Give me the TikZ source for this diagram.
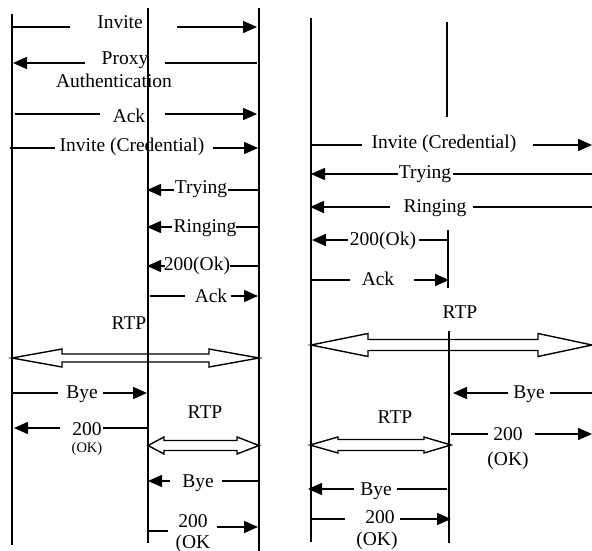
\documentclass[tikz,border=0pt]{standalone}
\usepackage{fontspec}
\setmainfont{Liberation Serif}
\usetikzlibrary{arrows.meta}
\newcommand\hollowdbl[7]{% x1,x2,y,headlen1,headlen2,headhalf,shafthalf
  \draw[rtp] (#1,#3) -- (#1+#4,#3-#6) -- (#1+#4,#3-#7) -- (#2-#5,#3-#7) -- (#2-#5,#3-#6) -- (#2,#3)
    -- (#2-#5,#3+#6) -- (#2-#5,#3+#7) -- (#1+#4,#3+#7) -- (#1+#4,#3+#6) -- cycle;}
\begin{document}
\begin{tikzpicture}[x=1pt,y=-1pt,
  life/.style={line width=1.8pt},
  msg/.style={line width=1.5pt},
  tip/.style={msg,-{Triangle[length=14pt,width=12pt]}},
  lbl/.style={font=\fontsize{19.5}{22}\selectfont, inner sep=0pt, anchor=base},
  smalllbl/.style={font=\fontsize{14.5}{16}\selectfont, inner sep=0pt, anchor=base},
  rtp/.style={line width=1.4pt, line join=miter}]
\useasboundingbox (0,0) rectangle (592,551);
% lifelines
\coordinate (A1t) at (12,14);  \coordinate (A1b) at (12,545);
\coordinate (A2t) at (148,8);  \coordinate (A2b) at (148,543);
\coordinate (A3t) at (259,8);  \coordinate (A3b) at (259,551);
\coordinate (B1t) at (311,18); \coordinate (B1b) at (311,542);
\coordinate (B2t) at (447,22); \coordinate (B2b) at (447,117);
\coordinate (B3t) at (448,230); \coordinate (B3b) at (448,288);
\coordinate (B4t) at (449,331); \coordinate (B4b) at (449,543);
\foreach \a/\b in {A1t/A1b,A2t/A2b,A3t/A3b,B1t/B1b,B2t/B2b,B3t/B3b,B4t/B4b}
  \draw[life] (\a) -- (\b);

% ---------- left diagram ----------
\draw[msg] (12,27) -- (70,27);
\node[lbl] (inv1) at (120,29) {Invite};
\draw[tip] (177,27) -- (257,27);

\draw[tip] (85,63) -- (13,63);
\node[lbl] (proxy) at (125,65) {Proxy};
\node[lbl] (auth) at (114,88) {Authentication};
\draw[msg] (165,63) -- (257,63);

\draw[msg] (15,114) -- (100,114);
\node[lbl] (ack1) at (129,122) {Ack};
\draw[tip] (165,114) -- (257,114);

\draw[msg] (10,148) -- (55,148);
\node[lbl] (invc1) at (132,151) {Invite (Credential)};
\draw[tip] (213,148) -- (258,148);

\draw[tip] (174,190) -- (147,190);
\node[lbl] (try1) at (201,193) {Trying};
\draw[msg] (228,190) -- (259,190);

\draw[tip] (172,227) -- (147,227);
\node[lbl] (ring1) at (205,232) {Ringing};
\draw[msg] (236,227) -- (259,227);

\draw[tip] (165,266) -- (147,266);
\node[lbl] (ok1) at (197,270) {200(Ok)};
\draw[msg] (230,266) -- (259,266);

\draw[msg] (150,296) -- (185,296);
\node[lbl] (ack2) at (211,302) {Ack};
\draw[tip] (231,296) -- (258,296);

\node[lbl] (rtp1) at (129,329) {RTP};
\hollowdbl{12}{259}{358}{50}{50}{9}{4}

\draw[msg] (12,393) -- (58,393);
\node[lbl] (bye1) at (82,398) {Bye};
\draw[tip] (103,393) -- (147,393);

\draw[tip] (60,428) -- (14,428);
\node[lbl] (ok2) at (87,435) {200};
\draw[msg] (103,428) -- (148,428);
\node[smalllbl] (ok2b) at (87,452) {(OK)};

\node[lbl] (rtp2) at (205,418) {RTP};
\hollowdbl{148}{259}{445.5}{16}{22}{8.5}{5}

\draw[tip] (170,481) -- (148,481);
\node[lbl] (bye2) at (198,487) {Bye};
\draw[msg] (222,481) -- (259,481);

\draw[msg] (148,531) -- (168,531);
\node[lbl] (ok3) at (193,527) {200};
\draw[tip] (217,527) -- (258,527);
\node[lbl] (ok3b) at (193,548) {(OK};

% ---------- right diagram ----------
\draw[msg] (311,145) -- (362,145);
\node[lbl] (invc2) at (444,148) {Invite (Credential)};
\draw[tip] (533,145) -- (592,145);

\draw[tip] (398,174) -- (311,174);
\node[lbl] (try2) at (425,178) {Trying};
\draw[msg] (453,174) -- (592,174);

\draw[tip] (390,207) -- (310,207);
\node[lbl] (ring2) at (435,212) {Ringing};
\draw[msg] (473,207) -- (592,207);

\draw[tip] (348,240) -- (312,240);
\node[lbl] (ok4) at (383,245) {200(Ok)};
\draw[msg] (419,240) -- (448,240);

\draw[msg] (311,280) -- (350,280);
\node[lbl] (ack3) at (378,285) {Ack};
\draw[tip] (414,280) -- (449,280);

\node[lbl] (rtp3) at (460,318) {RTP};
\hollowdbl{311}{592}{345}{57}{54}{11.5}{5.5}

\draw[tip] (508,393) -- (453,393);
\node[lbl] (bye3) at (529,398) {Bye};
\draw[msg] (550,393) -- (592,393);

\node[lbl] (rtp4) at (395,423) {RTP};

\draw[msg] (451,434) -- (488,434);
\node[lbl] (ok5) at (508,440) {200};
\draw[tip] (535,434) -- (592,434);
\node[lbl] (ok5b) at (508,465) {(OK)};

\hollowdbl{310}{451}{445}{28}{27}{8}{5.5}

\draw[tip] (354,489) -- (308,489);
\node[lbl] (bye4) at (376,495) {Bye};
\draw[msg] (397,489) -- (447,489);

\draw[msg] (311,519) -- (345,519);
\node[lbl] (ok6) at (380,523) {200};
\draw[tip] (400,519) -- (451,519);
\node[lbl] (ok6b) at (377,545) {(OK)};
\end{tikzpicture}
\end{document}
